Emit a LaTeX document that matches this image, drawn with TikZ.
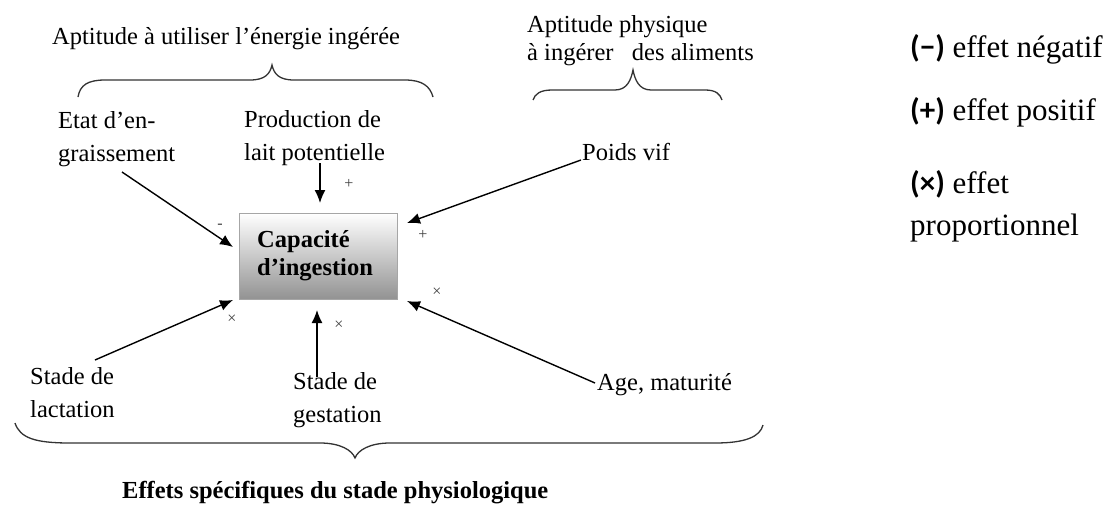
\documentclass[tikz,border=0pt]{standalone}
\usepackage{fontspec}
\setmainfont{Liberation Serif}
\newfontfamily\legfont{Carlito}
\usetikzlibrary{arrows.meta}
\tikzset{
  lbl/.style={inner sep=0pt, anchor=base west, align=left, font=\fontsize{24.5}{33}\selectfont},
  leg/.style={inner sep=0pt, anchor=base west, font=\fontsize{31}{38}\selectfont},
  sgn/.style={inner sep=0pt, font=\fontsize{16}{16}\selectfont, text=black!75},
  arr/.style={line width=1.4pt, -{Latex[length=13pt,width=11pt]}},
  brc/.style={line width=1.3pt, black!80},
  capbox/.style={draw=gray!70, line width=0.8pt, top color=white, middle color=gray!15, bottom color=gray!85,
     minimum width=158pt, minimum height=86pt, inner sep=0pt}
}
\begin{document}
\begin{tikzpicture}[x=1pt,y=-1pt]
\useasboundingbox[fill=white] (0,0) rectangle (1109,506);

% titles
\node[lbl] (t1) at (52,45) {Aptitude à utiliser l’énergie ingérée};
\node[lbl, font=\fontsize{24.5}{28}\selectfont] (t2) at (527,60) {Aptitude physique\\à ingérer\ \ \ des aliments};

% braces
\draw[brc] (78,97) .. controls (80,85) and (88,80) .. (105,80) -- (250,80) .. controls (265,80) and (270,74) .. (272,65)
   .. controls (274,74) and (279,80) .. (294,80) -- (405,80) .. controls (422,80) and (430,86) .. (433,97);
\draw[brc] (533,100) .. controls (535,94) and (540,90) .. (552,90) -- (615,90) .. controls (627,90) and (631,80) .. (633,70)
   .. controls (635,80) and (639,90) .. (651,90) -- (705,90) .. controls (716,90) and (720,94) .. (722,100);
\draw[brc] (15,423) .. controls (20,438) and (35,443) .. (70,443) -- (320,443) .. controls (340,443) and (352,450) .. (355,458)
   .. controls (358,450) and (370,443) .. (390,443) -- (715,443) .. controls (745,443) and (760,437) .. (763,425);

% central box
\node[capbox] (cap) at (318,256) {};
\node[inner sep=0pt, anchor=base west, align=left, font=\fontsize{24.5}{28}\bfseries\selectfont] (captxt) at (257,275)
  {Capacité\\d’ingestion};

% factor labels
\node[lbl] (etat) at (58,161) {Etat d’en-\\graissement};
\node[lbl] (prod) at (244,160) {Production de\\lait potentielle};
\node[lbl] (poids) at (582,160) {Poids vif};
\node[lbl] (lact) at (30,417) {Stade de\\lactation};
\node[lbl] (gest) at (293,422) {Stade de\\gestation};
\node[lbl] (age) at (597,390) {Age, maturité};
\node[lbl, font=\fontsize{24.5}{28}\bfseries\selectfont] (eff) at (122,498) {Effets spécifiques du stade physiologique};

% arrow end points
\coordinate (sEtat) at (122,172);
\coordinate (eEtat) at (233,247);
\coordinate (sProd) at (320,163);
\coordinate (eProd) at (320,203);
\coordinate (sPoids) at (581,160);
\coordinate (ePoids) at (407,223);
\coordinate (sLact) at (95,360);
\coordinate (eLact) at (233,300);
\coordinate (sGest) at (317,377);
\coordinate (eGest) at (317,310);
\coordinate (sAge) at (595,383);
\coordinate (eAge) at (407,301);

\draw[arr] (sEtat) -- (eEtat);
\draw[arr] (sProd) -- (eProd);
\draw[arr] (sPoids) -- (ePoids);
\draw[arr] (sLact) -- (eLact);
\draw[arr] (sGest) -- (eGest);
\draw[arr] (sAge) -- (eAge);

% signs
\node[sgn] (m1) at (220,226) {-};
\node[sgn] (p1) at (349,184) {+};
\node[sgn] (p2) at (423,235) {+};
\node[sgn] (x1) at (437,292) {×};
\node[sgn] (x2) at (232,319) {×};
\node[sgn] (x3) at (339,325) {×};

% legend
\node[leg] (l1) at (910,57) {{\legfont\bfseries (−)} effet négatif};
\node[leg] (l2) at (910,120) {{\legfont\bfseries (+)} effet positif};
\node[leg] (l3) at (910,193) {{\legfont\bfseries (×)} effet};
\node[leg] (l4) at (910,235) {proportionnel};
\end{tikzpicture}
\end{document}
